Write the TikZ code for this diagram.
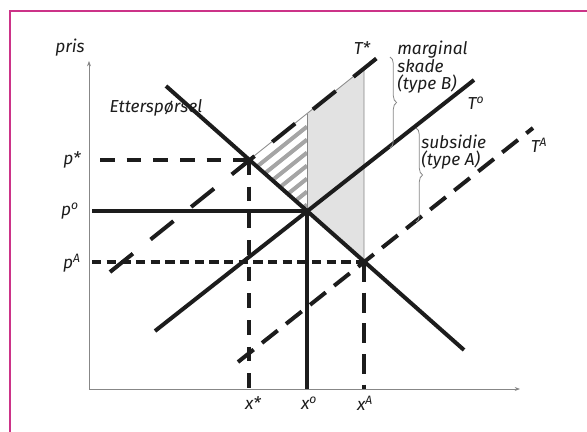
\documentclass[tikz,border=0pt]{standalone}
\usepackage{fontspec}
\setmainfont{Fira Sans}
\usetikzlibrary{arrows.meta, decorations.pathreplacing, calc}
\definecolor{framepink}{RGB}{204, 51, 136}
\definecolor{axisgrey}{RGB}{135, 135, 135}
\definecolor{areagrey}{RGB}{226, 226, 226}
\definecolor{hatchgrey}{RGB}{165, 165, 165}
\definecolor{ink}{RGB}{28, 28, 28}
\tikzset{
  lbl/.style={font=\fontsize{13}{12.5}\selectfont\itshape, text=ink, inner sep=0pt},
  axisline/.style={-{Stealth[length=4pt, width=3pt]}, color=axisgrey, line width=0.6pt},
}
\begin{document}
\begin{tikzpicture}[x=0.75pt, y=-0.75pt,
    solidline/.style={color=ink, line width=3pt},
    dashlong/.style={color=ink, line width=3pt, dash pattern=on 22pt off 17pt},
    dashmid/.style={color=ink, line width=3pt, dash pattern=on 15pt off 8pt},
    dashaxis/.style={color=ink, line width=3pt, dash pattern=on 11pt off 9pt},
    dashshort/.style={color=ink, line width=3pt, dash pattern=on 7pt off 4pt},
    thingrey/.style={color=axisgrey, line width=0.6pt},
    bracelbl/.style={decorate, decoration={brace, amplitude=5pt}, color=axisgrey, line width=0.6pt},
  ]
    \useasboundingbox (0,0) rectangle (587,432);
    \draw[framepink, line width=0.8pt] (10,432) -- (10,11) -- (587,11);

    % points of the diagram
    \coordinate (O) at (89,389);
    \coordinate (ytop) at (89,61);
    \coordinate (xend) at (520,389);
    \coordinate (Estar) at (249,160);
    \coordinate (Enull) at (307,211);
    \coordinate (EA) at (364,262);
    \coordinate (Tsnull) at (307,114);
    \coordinate (TsA) at (364,68);
    \coordinate (D1) at (166,86);
    \coordinate (D2) at (464,350);
    \coordinate (Tn1) at (155,331);
    \coordinate (Tn2) at (474,80);
    \coordinate (Ts1) at (110,272);
    \coordinate (Ts2) at (377,58);
    \coordinate (Ta1) at (238,362);
    \coordinate (Ta2) at (533,128);

    % shaded and hatched areas
    \fill[areagrey] (Tsnull) -- (TsA) -- (EA) -- (Enull) -- cycle;
    \begin{scope}
      \clip (Estar) -- (Tsnull) -- (Enull) -- cycle;
      \foreach \k in {13,26,...,91}
        \draw[hatchgrey, line width=3pt] ($(Estar)+(0,\k)$) -- ($(Estar)+(58,\k-46.4)$);
    \end{scope}
    \draw[thingrey] (Estar) -- (TsA) -- (EA);
    \draw[thingrey] (Tsnull) -- (Enull);

    % axes
    \draw[axisline] (O) -- (ytop);
    \draw[axisline] (O) -- (xend);
    \node[lbl] (pris) at (70,48) {pris};

    % price and quantity guides
    \draw[dashaxis] (100,160) -- (Estar);
    \draw[solidline] (92,211) -- (Enull);
    \draw[dashshort] (92,262) -- (EA);
    \draw[dashaxis] (Estar) -- (Estar |- O);
    \draw[solidline] (Enull) -- (Enull |- O);
    \draw[dashmid] (EA) -- (EA |- O);

    % curves
    \draw[solidline] (D1) -- (D2);
    \draw[solidline] (Tn1) -- (Tn2);
    \draw[dashlong] (Ts1) -- (Ts2);
    \draw[dashmid] (Ta1) -- (Ta2);

    % braces
    \draw[bracelbl] (390,57) -- (390,148);
    \draw[bracelbl] (416,128) -- (416,222);

    % labels
    \node[lbl] (demand) at (156,108) {Etterspørsel};
    \node[lbl] (pstar) at (72,160) {p*};
    \node[lbl] (pnull) at (70,211) {p\textsuperscript{o}};
    \node[lbl] (pA) at (72,263) {p\textsuperscript{A}};
    \node[lbl] (xstar) at (253,403) {x*};
    \node[lbl] (xnull) at (309,403) {x\textsuperscript{o}};
    \node[lbl] (xA) at (365,403) {x\textsuperscript{A}};
    \node[lbl] (Tstar) at (362,48) {T*};
    \node[lbl] (Tnull) at (476,103) {T\textsuperscript{o}};
    \node[lbl] (TA) at (539,145) {T\textsuperscript{A}};
    \node[lbl, anchor=west, align=left] (skade) at (397,67) {marginal\\skade\\(type B)};
    \node[lbl, anchor=west, align=left] (subsidie) at (421,152) {subsidie\\(type A)};
  \end{tikzpicture}
\end{document}
